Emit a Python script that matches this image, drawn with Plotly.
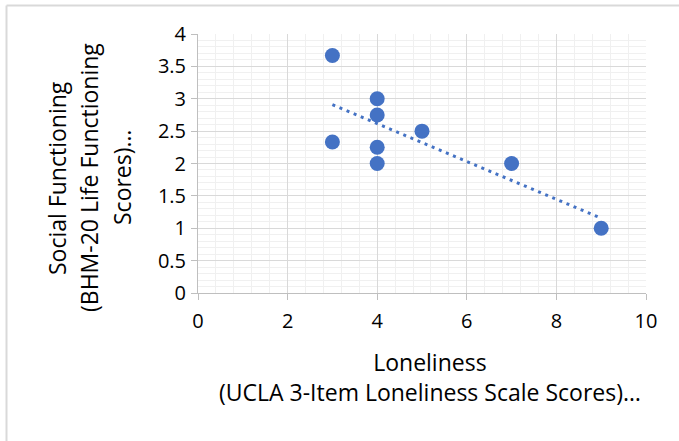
import numpy as np
import plotly.graph_objects as go

loneliness = [3, 3, 4, 4, 4, 4, 5, 7, 9]
social_functioning = [3.667, 2.333, 3.0, 2.75, 2.25, 2.0, 2.5, 2.0, 1.0]
x_tick_vals = [0, 2, 4, 6, 8, 10]
y_tick_vals = [0, 0.5, 1, 1.5, 2, 2.5, 3, 3.5, 4]
y_title_lines = ["Social Functioning", "(BHM-20 Life Functioning", "Scores)…"]
x_title_lines = ["Loneliness", "(UCLA 3-Item Loneliness Scale Scores)…"]

W, H = 679, 441
L, R, T, B = 198, 33, 34, 148
PW, PH = W - L - R, H - T - B

def px(x):
    return (x - L) / PW

def py(y):
    return (H - B - y) / PH

slope, intercept = np.polyfit(loneliness, social_functioning, 1)
tx = np.array([min(loneliness), max(loneliness)])
ty = slope * tx + intercept

FONT = "Open Sans"
BLUE = "#4472C4"

fig = go.Figure()
fig.add_trace(go.Scatter(x=tx, y=ty, mode="lines",
                         line=dict(color=BLUE, width=3, dash="3px,4.7px"),
                         hoverinfo="skip", showlegend=False))
fig.add_trace(go.Scatter(x=loneliness, y=social_functioning, mode="markers",
                         marker=dict(color=BLUE, size=15, line=dict(width=0)),
                         showlegend=False))

axis_common = dict(showline=True, linecolor="#bfbfbf", linewidth=1,
                   ticks="outside", ticklen=6, tickcolor="#bfbfbf",
                   showgrid=True, gridcolor="#d9d9d9", gridwidth=1,
                   zeroline=False,
                   tickfont=dict(family=FONT, size=20, color="#000000"))

fig.update_xaxes(range=[0, 10], tickvals=x_tick_vals,
                 minor=dict(dtick=0.4, showgrid=True, gridcolor="#f0f0f0", gridwidth=1),
                 ticklabelstandoff=4,
                 **axis_common)
fig.update_yaxes(range=[0, 4], tickvals=y_tick_vals,
                 minor=dict(dtick=0.1, showgrid=True, gridcolor="#f0f0f0", gridwidth=1),
                 ticklabelstandoff=1,
                 **axis_common)

annotations = []
y_line_x = [57, 89, 122]
for line, xc in zip(y_title_lines, y_line_x):
    annotations.append(dict(text=line, x=px(xc), y=py(178), xref="paper", yref="paper",
                            xanchor="center", yanchor="middle", textangle=-90,
                            showarrow=False, font=dict(family=FONT, size=23, color="#000000")))
annotations.append(dict(text="<br>".join(x_title_lines), x=px(430), y=py(376.5),
                        xref="paper", yref="paper", xanchor="center", yanchor="middle",
                        align="center", showarrow=False,
                        font=dict(family=FONT, size=23, color="#000000")))

shapes = [
    dict(type="line", xref="paper", yref="paper", x0=px(6.5), x1=px(700), y0=py(5.5), y1=py(5.5),
         line=dict(color="#d9d9d9", width=2)),
    dict(type="line", xref="paper", yref="paper", x0=px(6.5), x1=px(6.5), y0=py(5.5), y1=py(460),
         line=dict(color="#d9d9d9", width=2)),
]

fig.update_layout(width=W, height=H, margin=dict(l=L, r=R, t=T, b=B, autoexpand=False),
                  paper_bgcolor="white", plot_bgcolor="white",
                  annotations=annotations, shapes=shapes, showlegend=False)

fig.write_html("out.html")
